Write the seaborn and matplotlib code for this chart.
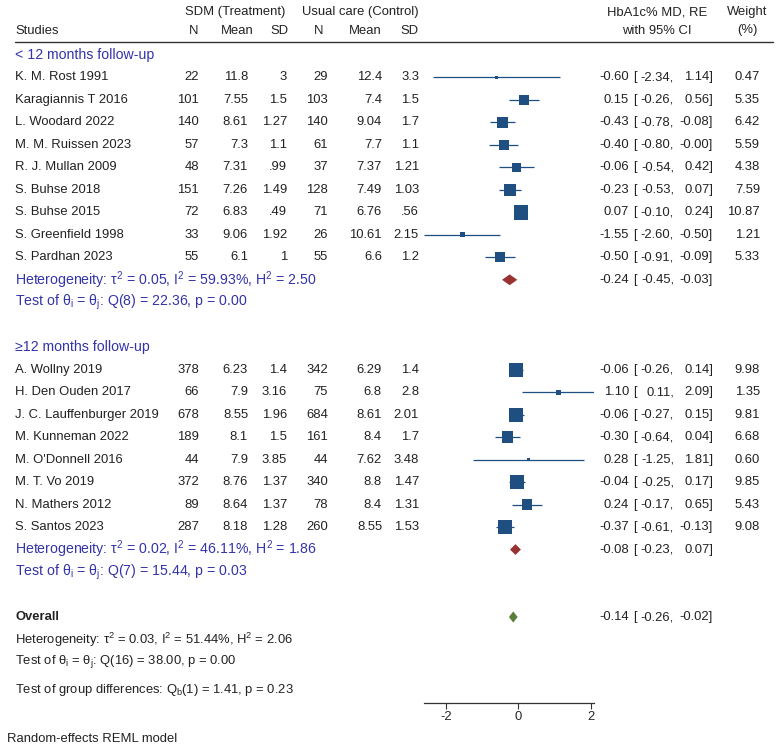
import numpy as np
import pandas as pd
import matplotlib
matplotlib.use("Agg")
import matplotlib.pyplot as plt
import seaborn as sns

# ---- data ----
studies_short = ["K. M. Rost 1991", "Karagiannis T 2016", "L. Woodard 2022",
                 "M. M. Ruissen 2023", "R. J. Mullan 2009", "S. Buhse 2018",
                 "S. Buhse 2015", "S. Greenfield 1998", "S. Pardhan 2023"]
n_t_short = [22, 101, 140, 57, 48, 151, 72, 33, 55]
mean_t_short = [11.8, 7.55, 8.61, 7.3, 7.31, 7.26, 6.83, 9.06, 6.1]
sd_t_short = [3, 1.5, 1.27, 1.1, 0.99, 1.49, 0.49, 1.92, 1]
n_c_short = [29, 103, 140, 61, 37, 128, 71, 26, 55]
mean_c_short = [12.4, 7.4, 9.04, 7.7, 7.37, 7.49, 6.76, 10.61, 6.6]
sd_c_short = [3.3, 1.5, 1.7, 1.1, 1.21, 1.03, 0.56, 2.15, 1.2]
md_short = [-0.60, 0.15, -0.43, -0.40, -0.06, -0.23, 0.07, -1.55, -0.50]
lo_short = [-2.34, -0.26, -0.78, -0.80, -0.54, -0.53, -0.10, -2.60, -0.91]
hi_short = [1.14, 0.56, -0.08, -0.0, 0.42, 0.07, 0.24, -0.50, -0.09]
w_short = [0.47, 5.35, 6.42, 5.59, 4.38, 7.59, 10.87, 1.21, 5.33]

studies_long = ["A. Wollny 2019", "H. Den Ouden 2017", "J. C. Lauffenburger 2019",
                "M. Kunneman 2022", "M. O'Donnell 2016", "M. T. Vo 2019",
                "N. Mathers 2012", "S. Santos 2023"]
n_t_long = [378, 66, 678, 189, 44, 372, 89, 287]
mean_t_long = [6.23, 7.9, 8.55, 8.1, 7.9, 8.76, 8.64, 8.18]
sd_t_long = [1.4, 3.16, 1.96, 1.5, 3.85, 1.37, 1.37, 1.28]
n_c_long = [342, 75, 684, 161, 44, 340, 78, 260]
mean_c_long = [6.29, 6.8, 8.61, 8.4, 7.62, 8.8, 8.4, 8.55]
sd_c_long = [1.4, 2.8, 2.01, 1.7, 3.48, 1.47, 1.31, 1.53]
md_long = [-0.06, 1.10, -0.06, -0.30, 0.28, -0.04, 0.24, -0.37]
lo_long = [-0.26, 0.11, -0.27, -0.64, -1.25, -0.25, -0.17, -0.61]
hi_long = [0.14, 2.09, 0.15, 0.04, 1.81, 0.17, 0.65, -0.13]
w_long = [9.98, 1.35, 9.81, 6.68, 0.60, 9.85, 5.43, 9.08]

# pooled estimates: [md, lower, upper]
pooled_short = [-0.24, -0.45, -0.03]
pooled_long = [-0.08, -0.23, 0.07]
pooled_all = [-0.14, -0.26, -0.02]

het_short = "Heterogeneity: τ$^2$ = 0.05, I$^2$ = 59.93%, H$^2$ = 2.50"
test_short = r"Test of θ$_\mathregular{i}$ = θ$_\mathregular{j}$: Q(8) = 22.36, p = 0.00"
het_long = "Heterogeneity: τ$^2$ = 0.02, I$^2$ = 46.11%, H$^2$ = 1.86"
test_long = r"Test of θ$_\mathregular{i}$ = θ$_\mathregular{j}$: Q(7) = 15.44, p = 0.03"
het_all = "Heterogeneity: τ$^2$ = 0.03, I$^2$ = 51.44%, H$^2$ = 2.06"
test_all = r"Test of θ$_\mathregular{i}$ = θ$_\mathregular{j}$: Q(16) = 38.00, p = 0.00"
test_groups = r"Test of group differences: Q$_\mathregular{b}$(1) = 1.41, p = 0.23"

x_ticks = [-2, 0, 2]

# ---- styling ----
sns.set_theme(style="white")
plt.rcParams["font.family"] = ["Liberation Sans", "DejaVu Sans"]
plt.rcParams["mathtext.fontset"] = "custom"
plt.rcParams["mathtext.rm"] = "Liberation Sans"
plt.rcParams["mathtext.it"] = "Liberation Sans:italic"
FS = 9.35
FSB = 10.2   # subgroup (blue) text is drawn a bit larger
SQ = "#1F4E80"
BLUE = "#3333AA"
RED = "#993333"
GREEN = "#5A7D3A"

W, H = 777, 749
fig = plt.figure(figsize=(W / 100, H / 100), dpi=100)
# text layer in pixel coordinates
tx = fig.add_axes([0, 0, 1, 1])
tx.set_xlim(0, W)
tx.set_ylim(H, 0)
tx.axis("off")

# forest layer: x pixel 424..594 -> -2.6..2.09, y pixel 0..703
x0, x1 = 424, 594.2
ybot = 703
fx = fig.add_axes([x0 / W, 1 - ybot / H, (x1 - x0) / W, ybot / H])
fx.set_xlim(-2.6, 2.09)
fx.set_ylim(ybot, 0)
fx.patch.set_alpha(0)
for s in ["top", "right", "left"]:
    fx.spines[s].set_visible(False)
fx.spines["bottom"].set_color("#333333")
fx.spines["bottom"].set_linewidth(0.9)
fx.set_yticks([])
fx.set_xticks(x_ticks)
fx.set_xticklabels([str(t) for t in x_ticks])
fx.tick_params(axis="x", direction="out", length=4, width=0.8, color="#333333",
               labelsize=FS, pad=2, bottom=True)


def fmt(v):
    s = f"{v:g}"
    if s.startswith("0."):
        s = s[1:]
    return s


def txt(x, y, s, ha="left", color="#222222", size=FS, **kw):
    tx.text(x, y, s, ha=ha, va="center", fontsize=size, color=color, **kw)


# headers
txt(235, 12.5, "SDM (Treatment)", ha="center")
txt(360, 12.5, "Usual care (Control)", ha="center")
txt(15, 30.5, "Studies")
for xc, lab in [(194, "N"), (237, "Mean"), (279, "SD"),
                (319, "N"), (365, "Mean"), (409, "SD")]:
    txt(xc, 30.5, lab, ha="center")
txt(657, 12.5, "HbA1c% MD, RE", ha="center")
txt(657, 30.5, "with 95% CI", ha="center")
txt(747, 12.5, "Weight", ha="center")
txt(747, 30.5, "(%)", ha="center")
tx.plot([15, 773], [41.7, 41.7], color="#333333", lw=1.0)

STEP = 22.48
Y0 = 55


def row_y(k):
    return Y0 + STEP * k


def ci_text(y, md, lo, hi):
    txt(629, y, f"{md:.2f}", ha="right")
    txt(633, y, "[")
    txt(674, y, f"{lo:.2f},", ha="right")
    txt(713, y, f"{hi:.2f}]", ha="right")


def diamond(p, y, color, h=5.4):
    md, lo, hi = p
    fx.fill([lo, md, hi, md], [y, y - h, y, y + h], color=color, lw=0, zorder=3)


def draw_group(start, title, names, nt, mt, st, nc, mc, sc, md, lo, hi, w,
               pooled, het, test):
    txt(15, row_y(start), title, color=BLUE, size=FSB)
    ys = [row_y(start + 1 + i) for i in range(len(names))]
    for i, y in enumerate(ys):
        txt(15, y, names[i])
        txt(199, y, str(nt[i]), ha="right")
        txt(248, y, fmt(mt[i]), ha="right")
        txt(287, y, fmt(st[i]), ha="right")
        txt(328, y, str(nc[i]), ha="right")
        txt(382, y, fmt(mc[i]), ha="right")
        txt(419, y, fmt(sc[i]), ha="right")
        ci_text(y, md[i], lo[i], hi[i])
        txt(760, y, f"{w[i]:.2f}", ha="right")
    df = pd.DataFrame({"md": md, "lo": lo, "hi": hi, "w": w, "y": ys})
    fx.hlines(df["y"], df["lo"], df["hi"], color=SQ, lw=0.9)
    sns.scatterplot(data=df, x="md", y="y", size="w", sizes=(0, 112),
                    size_norm=(0, 10.87), marker="s", color=SQ,
                    linewidth=0, legend=False, ax=fx, zorder=3)
    yp = row_y(start + 1 + len(names))
    diamond(pooled, yp, RED)
    txt(15, yp, het, color=BLUE, size=FSB)
    ci_text(yp, *pooled)
    txt(15, row_y(start + 2 + len(names)), test, color=BLUE, size=FSB)


draw_group(0, "< 12 months follow-up", studies_short, n_t_short, mean_t_short,
           sd_t_short, n_c_short, mean_c_short, sd_c_short, md_short, lo_short,
           hi_short, w_short, pooled_short, het_short, test_short)
draw_group(13, "≥12 months follow-up", studies_long, n_t_long, mean_t_long,
           sd_t_long, n_c_long, mean_c_long, sd_c_long, md_long, lo_long,
           hi_long, w_long, pooled_long, het_long, test_long)

y_all = row_y(25)
txt(15, y_all, "Overall", fontweight="bold")
diamond(pooled_all, y_all, GREEN, h=5.6)
ci_text(y_all, *pooled_all)
txt(15, row_y(26), het_all)
txt(15, row_y(27), test_all)
txt(15, 690.5, test_groups)
txt(7, 739, "Random-effects REML model")

fx.set_xlabel("")
fx.set_ylabel("")
fig.savefig("out.png", dpi=100)
